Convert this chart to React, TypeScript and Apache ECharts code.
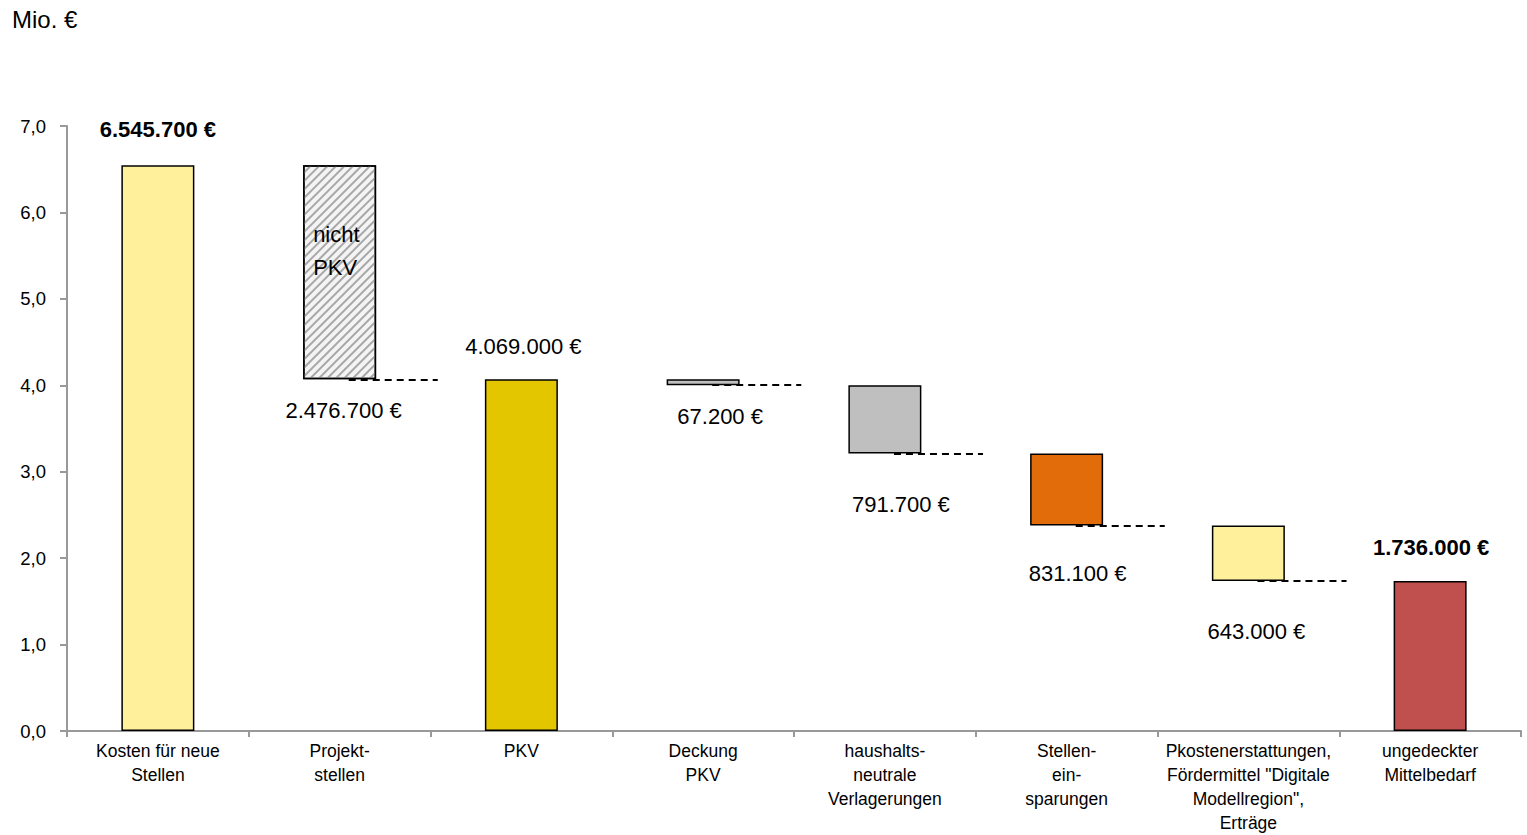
import React, { useEffect, useRef } from "react";
import * as echarts from "echarts";

// ---------- data ----------
const categories: string[] = [
  "Kosten für neue\nStellen",
  "Projekt-\nstellen",
  "PKV",
  "Deckung\nPKV",
  "haushalts-\nneutrale\nVerlagerungen",
  "Stellen-\nein-\nsparungen",
  'Pkostenerstattungen,\nFördermittel "Digitale\nModellregion",\nErträge',
  "ungedeckter\nMittelbedarf",
];
// amounts in €
const amounts: number[] = [6545700, 2476700, 4069000, 67200, 791700, 831100, 643000, 1736000];
// total = bar from zero, decrease = floating step down
const kinds: string[] = ["total", "decrease", "total", "decrease", "decrease", "decrease", "decrease", "total"];
const yMin = 0;
const yMax = 7;
const yInterval = 1;
const insideNote = "nicht\nPKV";

// ---------- styles ----------
const barColors = ["#FFF09C", "#FFFFFF", "#E4C600", "#BFBFBF", "#BFBFBF", "#E36C0A", "#FFF09C", "#C0504D"];
// label side, distance (px) and horizontal offset (px)
const labelStyle: { side: string; dist: number; dx: number; bold: boolean }[] = [
  { side: "top", dist: 24, dx: 0, bold: true },
  { side: "bottom", dist: 19, dx: 4, bold: false },
  { side: "top", dist: 21, dx: 2, bold: false },
  { side: "bottom", dist: 19, dx: 17, bold: false },
  { side: "bottom", dist: 39, dx: 16, bold: false },
  { side: "bottom", dist: 36, dx: 11, bold: false },
  { side: "bottom", dist: 39, dx: 8, bold: false },
  { side: "top", dist: 21, dx: 1, bold: true },
];

const FONT = "'Liberation Sans', Arial, Helvetica, sans-serif";

function fmtEuro(n: number): string {
  return n.toString().replace(/\B(?=(\d{3})+(?!\d))/g, ".") + " €";
}

export default function App() {
  const ref = useRef<HTMLDivElement>(null);

  useEffect(() => {
    if (!ref.current) return;
    const chart = echarts.init(ref.current, undefined, { renderer: "svg" });

    // waterfall geometry
    const bases: number[] = [];
    const heights: number[] = [];
    let running = 0;
    amounts.forEach((a, i) => {
      if (kinds[i] === "total") {
        running = a;
        bases.push(0);
        heights.push(a / 1e6);
      } else {
        running -= a;
        bases.push(running / 1e6);
        heights.push(a / 1e6);
      }
    });

    const baseData = bases.map((b, i) => {
      const ls = labelStyle[i];
      return {
        value: b,
        label:
          ls.side === "bottom"
            ? {
                show: true,
                position: "insideTop",
                distance: ls.dist,
                offset: [ls.dx, 0],
                formatter: () => fmtEuro(amounts[i]),
                fontSize: 22,
                lineHeight: 24,
                color: "#000",
                fontFamily: FONT,
                fontWeight: ls.bold ? "bold" : "normal",
              }
            : { show: false },
      };
    });

    const visData = heights.map((h, i) => {
      const ls = labelStyle[i];
      const hatched = kinds[i] === "decrease" && i === 1;
      const item: any = {
        value: h,
        itemStyle: {
          color: hatched ? "#F4F4F4" : barColors[i],
          borderColor: "#000",
          borderWidth: 1.5,
        },
      };
      if (hatched) {
        item.itemStyle.decal = {
          symbol: "rect",
          symbolSize: 1,
          color: "#A8A8A8",
          dashArrayX: [1, 0],
          dashArrayY: [1.5, 3.5],
          rotation: -Math.PI / 4,
        };
        item.label = {
          show: true,
          position: [10, 53],
          formatter: insideNote,
          fontSize: 22,
          lineHeight: 33,
          color: "#000",
          fontFamily: FONT,
        };
      } else if (ls.side === "top") {
        item.label = {
          show: true,
          position: "top",
          distance: ls.dist,
          offset: [ls.dx, 0],
          formatter: () => fmtEuro(amounts[i]),
          fontSize: 22,
          lineHeight: 24,
          color: "#000",
          fontFamily: FONT,
          fontWeight: ls.bold ? "bold" : "normal",
        };
      } else {
        item.label = { show: false };
      }
      return item;
    });

    // dashed connectors from each step's bottom to the next category
    const connectors = bases
      .map((b, i) => ({ b, i }))
      .filter(({ i }) => kinds[i] === "decrease")
      .map(({ b, i }) => ({
        coords: [
          [i + 0.05, b],
          [i + 0.54, b],
        ],
      }));

    const option: any = {
      animation: false,
      backgroundColor: "#fff",
      textStyle: { fontFamily: FONT },
      title: {
        text: "Mio. €",
        left: 7,
        top: 2,
        textStyle: { fontSize: 24, fontWeight: "normal", color: "#000", fontFamily: FONT },
      },
      grid: { left: 67, right: 6, top: 126, bottom: 104, containLabel: false },
      xAxis: [
        {
          type: "category",
          data: categories,
          axisLine: { onZero: false, lineStyle: { color: "#999", width: 2 } },
          axisTick: { show: true, length: 6, lineStyle: { color: "#999", width: 2 } },
          axisLabel: {
            interval: 0,
            margin: 8,
            fontSize: 17.5,
            lineHeight: 24,
            color: "#000",
            fontFamily: FONT,
          },
        },
        { type: "value", min: -0.5, max: 7.5, show: false },
      ],
      yAxis: {
        type: "value",
        min: yMin,
        max: yMax,
        interval: yInterval,
        splitLine: { show: false },
        axisLine: { show: true, onZero: false, lineStyle: { color: "#999", width: 2 } },
        axisTick: { show: true, length: 7, lineStyle: { color: "#999", width: 2 } },
        axisLabel: {
          margin: 21,
          fontSize: 18.5,
          color: "#000",
          fontFamily: FONT,
          formatter: (v: number) => v.toFixed(1).replace(".", ","),
        },
      },
      series: [
        {
          type: "bar",
          stack: "wf",
          barWidth: 73,
          silent: true,
          itemStyle: { color: "transparent", borderWidth: 0 },
          data: baseData,
          z: 2,
        },
        {
          type: "bar",
          stack: "wf",
          barWidth: 73,
          data: visData,
          z: 3,
        },
        {
          type: "lines",
          coordinateSystem: "cartesian2d",
          xAxisIndex: 1,
          yAxisIndex: 0,
          silent: true,
          z: 6,
          lineStyle: { color: "#000", width: 1.8, type: [7, 5], opacity: 1, curveness: 0 },
          data: connectors,
        },
      ],
    };

    chart.setOption(option);
    return () => chart.dispose();
  }, []);

  return (
    <div
      ref={ref}
      style={{ position: "fixed", left: 0, top: 0, width: 1527, height: 835, background: "#fff" }}
    />
  );
}
